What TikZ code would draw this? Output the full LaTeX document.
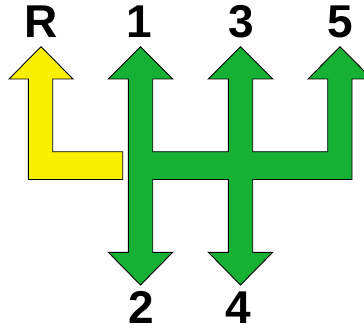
\documentclass[tikz,border=0pt]{standalone}
\usepackage{fontspec}
\setmainfont{Liberation Sans}
\usepackage{xcolor}
\definecolor{gategreen}{RGB}{22,176,52}
\definecolor{gateyellow}{RGB}{248,240,0}

\begin{document}
\begin{tikzpicture}[x=1pt, y=1pt,
    gate/.style={draw=black, line width=0.9pt, line join=miter},
    gearlabel/.style={anchor=base, inner sep=0pt,
        font=\fontsize{46}{46}\selectfont\bfseries}]
    \useasboundingbox (0,0) rectangle (364,330);

    % Reverse: yellow L-shaped arrow
    \filldraw[gate, fill=gateyellow]
        (41,283.3) -- (73,251) -- (52.7,251) -- (52.7,178.3) -- (122.7,178.3)
        -- (122.7,150.5) -- (28.3,150.5) -- (28.3,251) -- (9,251) -- cycle;

    % Forward gears: green H pattern (1-2, 3-4, 5)
    \filldraw[gate, fill=gategreen]
        (140.5,283.3) -- (172.7,251) -- (152.7,251) -- (152.7,178.3)
        -- (228.3,178.3) -- (228.3,251) -- (208.3,251) -- (240.5,283.3)
        -- (272.7,251) -- (252.7,251) -- (252.7,178.3)
        -- (327.7,178.3) -- (327.7,251) -- (308,251) -- (340,283.3)
        -- (372,251) -- (352,251) -- (352,150.5)
        -- (252.7,150.5) -- (252.7,77.7) -- (272.7,77.7) -- (240.5,45)
        -- (208.3,77.7) -- (228.3,77.7) -- (228.3,150.5)
        -- (152.7,150.5) -- (152.7,77.7) -- (172.7,77.7) -- (140.5,45)
        -- (108.3,77.7) -- (128.3,77.7) -- (128.3,251) -- (108.3,251) -- cycle;

    % Gear numbers
    \node[gearlabel] (labR) at (41,292) {R};
    \node[gearlabel] (lab1) at (139,292) {1};
    \node[gearlabel] (lab3) at (241,292) {3};
    \node[gearlabel] (lab5) at (340,292) {5};
    \node[gearlabel] (lab2) at (141,6.5) {2};
    \node[gearlabel] (lab4) at (238,6.5) {4};
\end{tikzpicture}
\end{document}
